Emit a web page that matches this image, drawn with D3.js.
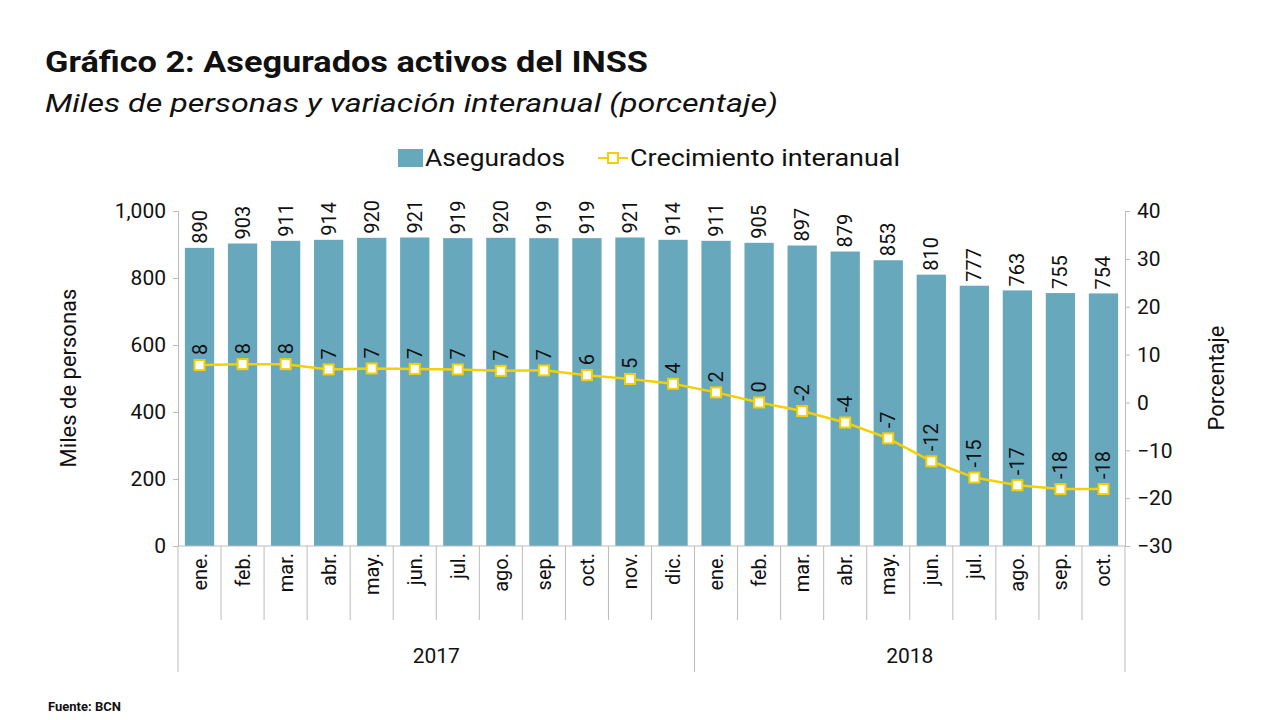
<!DOCTYPE html><html><head><meta charset="utf-8">
<script src="https://cdn.jsdelivr.net/npm/d3@7"></script>
<style>body{margin:0;background:#fff}text{font-family:Roboto,"DejaVu Sans",sans-serif}</style></head><body>
<svg id="c" width="1280" height="720"></svg>
<script>
const months=["ene.","feb.","mar.","abr.","may.","jun.","jul.","ago.","sep.","oct.","nov.","dic.","ene.","feb.","mar.","abr.","may.","jun.","jul.","ago.","sep.","oct."];
const years=[{label:"2017",n:12},{label:"2018",n:10}];
const asegurados=[890,903,911,914,920,921,919,920,919,919,921,914,911,905,897,879,853,810,777,763,755,754];
const crecimiento=[7.8,8.0,8.0,6.9,7.1,7.0,6.9,6.6,6.7,5.7,4.9,3.9,2.1,0.0,-1.8,-4.2,-7.5,-12.3,-15.7,-17.3,-18.1,-18.1];
const crecLabels=["8","8","8","7","7","7","7","7","7","6","5","4","2","0","-2","-4","-7","-12","-15","-17","-18","-18"];
const leftTicks=[0,200,400,600,800,1000];
const rightTicks=[-30,-20,-10,0,10,20,30,40];

const svg=d3.select("#c");
const L=178,R=1125,T=211,B=546;
const idx=d3.range(months.length);
const x=d3.scaleBand().domain(idx).range([L,R]).paddingInner(0.32).paddingOuter(0.16);
const step=(R-L)/months.length;
const y=d3.scaleLinear().domain([0,1000]).range([B,T]);
const y2=d3.scaleLinear().domain([-30,40]).range([B,T]);

svg.append("text").attr("x",45).attr("y",72).attr("font-size",30).attr("font-weight",700).attr("fill","#111").attr("textLength",603).attr("lengthAdjust","spacingAndGlyphs").text("Gráfico 2: Asegurados activos del INSS");
svg.append("text").attr("x",45).attr("y",112).attr("font-size",26).attr("font-style","italic").attr("fill","#111").attr("textLength",733).attr("lengthAdjust","spacingAndGlyphs").text("Miles de personas y variación interanual (porcentaje)");

// legend
svg.append("rect").attr("x",398).attr("y",149).attr("width",25).attr("height",18).attr("fill","#68a8bd");
svg.append("text").attr("x",425).attr("y",166).attr("font-size",23).attr("fill","#111").attr("textLength",140).attr("lengthAdjust","spacingAndGlyphs").text("Asegurados");
svg.append("line").attr("x1",598).attr("x2",628).attr("y1",158).attr("y2",158).attr("stroke","#f5d000").attr("stroke-width",2);
svg.append("rect").attr("x",608).attr("y",153).attr("width",10).attr("height",10).attr("fill","#fff").attr("stroke","#f5d000").attr("stroke-width",2);
svg.append("text").attr("x",630).attr("y",166).attr("font-size",23).attr("fill","#111").attr("textLength",270).attr("lengthAdjust","spacingAndGlyphs").text("Crecimiento interanual");

// bars
svg.selectAll("rect.bar").data(asegurados).join("rect").attr("class","bar")
 .attr("x",(d,i)=>x(i)).attr("width",x.bandwidth()).attr("y",d=>y(d)).attr("height",d=>B-y(d)).attr("fill","#68a8bd");
svg.selectAll("text.bl").data(asegurados).join("text").attr("class","bl")
 .attr("transform",(d,i)=>`translate(${x(i)+x.bandwidth()/2+7},${y(d)-4}) rotate(-90)`)
 .attr("font-size",20).attr("fill","#111").text(d=>d);

// axes
const gl=svg.append("g").attr("transform",`translate(${L},0)`).call(d3.axisLeft(y).tickValues(leftTicks).tickFormat(d3.format(",")).tickSize(5));
gl.selectAll("text").attr("font-size",21).attr("fill","#111").attr("dx",-4);
const gr=svg.append("g").attr("transform",`translate(${R},0)`).call(d3.axisRight(y2).tickValues(rightTicks).tickSize(5));
gr.selectAll("text").attr("font-size",21).attr("fill","#111").attr("dx",4);
[gl,gr].forEach(g=>{g.selectAll("line,path").attr("stroke","#bbb");});
svg.append("line").attr("x1",L).attr("x2",R).attr("y1",B).attr("y2",B).attr("stroke","#bbb");

// category separators
idx.concat([months.length]).forEach(i=>{
  const xx=L+i*step;
  const isYear=(i===0||i===12||i===months.length);
  svg.append("line").attr("x1",xx).attr("x2",xx).attr("y1",B).attr("y2",isYear?672:620).attr("stroke","#bbb");
});
svg.selectAll("text.ml").data(months).join("text").attr("class","ml")
 .attr("transform",(d,i)=>`translate(${L+(i+0.5)*step+7},${553}) rotate(-90)`)
 .attr("text-anchor","end").attr("font-size",20).attr("fill","#111").text(d=>d);
let acc=0;
years.forEach(yr=>{
  svg.append("text").attr("x",L+(acc+yr.n/2)*step).attr("y",663).attr("text-anchor","middle").attr("font-size",21).attr("fill","#111").text(yr.label);
  acc+=yr.n;
});

// axis titles
svg.append("text").attr("transform","translate(76,378) rotate(-90)").attr("text-anchor","middle").attr("font-size",22).attr("fill","#111").text("Miles de personas");
svg.append("text").attr("transform","translate(1224,378) rotate(-90)").attr("text-anchor","middle").attr("font-size",22).attr("fill","#111").text("Porcentaje");

// line
const cx=i=>x(i)+x.bandwidth()/2;
svg.append("path").datum(crecimiento).attr("fill","none").attr("stroke","#f5d000").attr("stroke-width",2.5)
 .attr("d",d3.line().x((d,i)=>cx(i)).y(d=>y2(d)));
svg.selectAll("rect.pt").data(crecimiento).join("rect").attr("class","pt")
 .attr("x",(d,i)=>cx(i)-5).attr("y",d=>y2(d)-5).attr("width",10).attr("height",10)
 .attr("fill","#fff").attr("stroke","#f5d000").attr("stroke-width",2);
svg.selectAll("text.cl").data(crecimiento).join("text").attr("class","cl")
 .attr("transform",(d,i)=>`translate(${cx(i)+7},${y2(d)-10}) rotate(-90)`)
 .attr("font-size",20).attr("fill","#111").text((d,i)=>crecLabels[i]);

svg.append("text").attr("x",48).attr("y",711).attr("font-size",13).attr("font-weight",700).attr("fill","#111").text("Fuente: BCN");
</script></body></html>
